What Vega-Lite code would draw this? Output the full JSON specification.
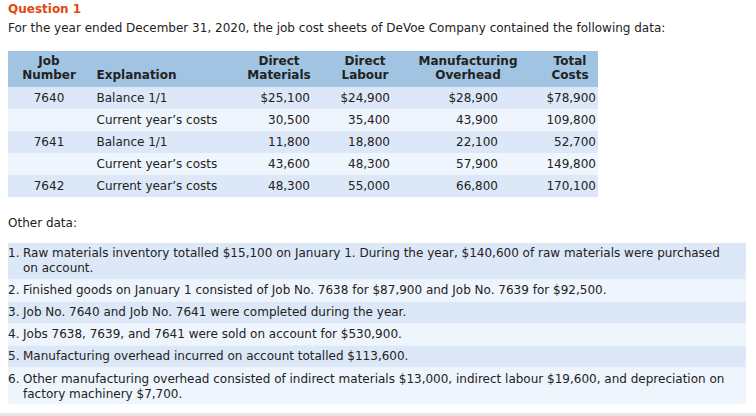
{
  "$schema": "https://vega.github.io/schema/vega-lite/v6.json",
  "width": 756,
  "height": 416,
  "padding": 0,
  "autosize": {"type": "none"},
  "background": "white",
  "config": {"view": {"stroke": null}},
  "datasets": {
    "bands": [
      {"band": "head", "from": 0, "to": 1, "x0": 1, "x1": 2},
      {"band": "r1", "from": 1, "to": 2, "x0": 1, "x1": 2},
      {"band": "r2", "from": 2, "to": 3, "x0": 1, "x1": 2},
      {"band": "r3", "from": 3, "to": 4, "x0": 1, "x1": 2},
      {"band": "r4", "from": 4, "to": 5, "x0": 1, "x1": 2},
      {"band": "r5", "from": 5, "to": 6, "x0": 1, "x1": 2},
      {"band": "i1", "from": 7, "to": 8, "x0": 1, "x1": 3},
      {"band": "i2", "from": 8, "to": 9, "x0": 1, "x1": 3},
      {"band": "i3", "from": 9, "to": 10, "x0": 1, "x1": 3},
      {"band": "i4", "from": 10, "to": 11, "x0": 1, "x1": 3},
      {"band": "i5", "from": 11, "to": 12, "x0": 1, "x1": 3},
      {"band": "i6", "from": 12, "to": 13, "x0": 1, "x1": 3},
      {"band": "foot", "from": 14, "to": 15, "x0": 0, "x1": 4}
    ],
    "texts": [
      {"line": 0, "col": 0, "kind": "title", "text": "Question 1"},
      {"line": 1, "col": 0, "kind": "left", "text": "For the year ended December 31, 2020, the job cost sheets of DeVoe Company contained the following data:"},
      {"line": 2, "col": 3, "kind": "headc", "text": "Job"},
      {"line": 2, "col": 5, "kind": "headc", "text": "Direct"},
      {"line": 2, "col": 7, "kind": "headc", "text": "Direct"},
      {"line": 2, "col": 9, "kind": "headc", "text": "Manufacturing"},
      {"line": 2, "col": 11, "kind": "headc", "text": "Total"},
      {"line": 3, "col": 3, "kind": "headc", "text": "Number"},
      {"line": 3, "col": 4, "kind": "headl", "text": "Explanation"},
      {"line": 3, "col": 5, "kind": "headc", "text": "Materials"},
      {"line": 3, "col": 7, "kind": "headc", "text": "Labour"},
      {"line": 3, "col": 9, "kind": "headc", "text": "Overhead"},
      {"line": 3, "col": 11, "kind": "headc", "text": "Costs"},
      {"line": 4, "col": 3, "kind": "mid", "text": "7640"},
      {"line": 4, "col": 4, "kind": "left", "text": "Balance 1/1"},
      {"line": 4, "col": 6, "kind": "num", "text": "$25,100"},
      {"line": 4, "col": 8, "kind": "num", "text": "$24,900"},
      {"line": 4, "col": 10, "kind": "num", "text": "$28,900"},
      {"line": 4, "col": 12, "kind": "num", "text": "$78,900"},
      {"line": 5, "col": 4, "kind": "left", "text": "Current year’s costs"},
      {"line": 5, "col": 6, "kind": "num", "text": "30,500"},
      {"line": 5, "col": 8, "kind": "num", "text": "35,400"},
      {"line": 5, "col": 10, "kind": "num", "text": "43,900"},
      {"line": 5, "col": 12, "kind": "num", "text": "109,800"},
      {"line": 6, "col": 3, "kind": "mid", "text": "7641"},
      {"line": 6, "col": 4, "kind": "left", "text": "Balance 1/1"},
      {"line": 6, "col": 6, "kind": "num", "text": "11,800"},
      {"line": 6, "col": 8, "kind": "num", "text": "18,800"},
      {"line": 6, "col": 10, "kind": "num", "text": "22,100"},
      {"line": 6, "col": 12, "kind": "num", "text": "52,700"},
      {"line": 7, "col": 4, "kind": "left", "text": "Current year’s costs"},
      {"line": 7, "col": 6, "kind": "num", "text": "43,600"},
      {"line": 7, "col": 8, "kind": "num", "text": "48,300"},
      {"line": 7, "col": 10, "kind": "num", "text": "57,900"},
      {"line": 7, "col": 12, "kind": "num", "text": "149,800"},
      {"line": 8, "col": 3, "kind": "mid", "text": "7642"},
      {"line": 8, "col": 4, "kind": "left", "text": "Current year’s costs"},
      {"line": 8, "col": 6, "kind": "num", "text": "48,300"},
      {"line": 8, "col": 8, "kind": "num", "text": "55,000"},
      {"line": 8, "col": 10, "kind": "num", "text": "66,800"},
      {"line": 8, "col": 12, "kind": "num", "text": "170,100"},
      {"line": 9, "col": 0, "kind": "left", "text": "Other data:"},
      {"line": 10, "col": 1, "kind": "left", "text": "1."},
      {"line": 10, "col": 2, "kind": "left", "text": "Raw materials inventory totalled $15,100 on January 1. During the year, $140,600 of raw materials were purchased"},
      {"line": 11, "col": 2, "kind": "left", "text": "on account."},
      {"line": 12, "col": 1, "kind": "left", "text": "2."},
      {"line": 12, "col": 2, "kind": "left", "text": "Finished goods on January 1 consisted of Job No. 7638 for $87,900 and Job No. 7639 for $92,500."},
      {"line": 13, "col": 1, "kind": "left", "text": "3."},
      {"line": 13, "col": 2, "kind": "left", "text": "Job No. 7640 and Job No. 7641 were completed during the year."},
      {"line": 14, "col": 1, "kind": "left", "text": "4."},
      {"line": 14, "col": 2, "kind": "left", "text": "Jobs 7638, 7639, and 7641 were sold on account for $530,900."},
      {"line": 15, "col": 1, "kind": "left", "text": "5."},
      {"line": 15, "col": 2, "kind": "left", "text": "Manufacturing overhead incurred on account totalled $113,600."},
      {"line": 16, "col": 1, "kind": "left", "text": "6."},
      {"line": 16, "col": 2, "kind": "left", "text": "Other manufacturing overhead consisted of indirect materials $13,000, indirect labour $19,600, and depreciation on"},
      {"line": 17, "col": 2, "kind": "left", "text": "factory machinery $7,700."}
    ]
  },
  "layer": [
    {
      "data": {"name": "bands"},
      "mark": {"type": "rect"},
      "encoding": {
        "x": {"field": "x0", "type": "quantitative", "axis": null,
              "scale": {"domain": [0, 1, 2, 3, 4], "range": [0, 8, 598, 746, 756], "nice": false, "zero": false}},
        "x2": {"field": "x1"},
        "y": {"field": "from", "type": "quantitative", "axis": null,
              "scale": {"domain": [0, 1, 2, 3, 4, 5, 6, 7, 8, 9, 10, 11, 12, 13, 14, 15],
                        "range": [51, 87, 109, 131, 153, 175, 197, 243, 279.5, 301.5, 323.5, 345.5, 367.5, 404, 413, 416],
                        "nice": false, "zero": false}},
        "y2": {"field": "to"},
        "color": {"field": "band", "type": "nominal", "legend": null,
                  "scale": {"domain": ["head", "r1", "r2", "r3", "r4", "r5", "i1", "i2", "i3", "i4", "i5", "i6", "foot"],
                            "range": ["#a0c4e2", "#dce8f7", "#eef5fd", "#dce8f7", "#eef5fd", "#dce8f7", "#dce8f7", "#eef5fd", "#dce8f7", "#eef5fd", "#dce8f7", "#eef5fd", "#e6e6e6"]}}
      }
    },
    {
      "data": {"name": "texts"},
      "encoding": {
        "x": {"field": "col", "type": "quantitative", "axis": null,
              "scale": {"domain": [0, 1, 2, 3, 4, 5, 6, 7, 8, 9, 10, 11, 12],
                        "range": [8, 8, 23, 49, 96.5, 279, 310, 365, 390, 468, 498, 570, 596],
                        "nice": false, "zero": false}},
        "y": {"field": "line", "type": "quantitative", "axis": null,
              "scale": {"domain": [0, 1, 2, 3, 4, 5, 6, 7, 8, 9, 10, 11, 12, 13, 14, 15, 16, 17],
                        "range": [13.3, 31.7, 65, 79.3, 101.7, 123.7, 145.7, 167.7, 189.7, 226.5, 256.7, 271.7, 294.2, 316, 338, 360, 382.7, 397.7],
                        "nice": false, "zero": false}},
        "text": {"field": "text"}
      },
      "layer": [
        {"transform": [{"filter": "datum.kind === 'title'"}],
         "mark": {"type": "text", "align": "left", "baseline": "alphabetic", "font": "DejaVu Sans", "fontSize": 12, "fontWeight": "bold", "color": "#e4470e"}},
        {"transform": [{"filter": "datum.kind === 'left'"}],
         "mark": {"type": "text", "align": "left", "baseline": "alphabetic", "font": "DejaVu Sans", "fontSize": 12, "color": "#222222"}},
        {"transform": [{"filter": "datum.kind === 'headl'"}],
         "mark": {"type": "text", "align": "left", "baseline": "alphabetic", "font": "DejaVu Sans", "fontSize": 12, "fontWeight": "bold", "color": "#222222"}},
        {"transform": [{"filter": "datum.kind === 'headc'"}],
         "mark": {"type": "text", "align": "center", "baseline": "alphabetic", "font": "DejaVu Sans", "fontSize": 12, "fontWeight": "bold", "color": "#222222"}},
        {"transform": [{"filter": "datum.kind === 'mid'"}],
         "mark": {"type": "text", "align": "center", "baseline": "alphabetic", "font": "DejaVu Sans", "fontSize": 12, "color": "#222222"}},
        {"transform": [{"filter": "datum.kind === 'num'"}],
         "mark": {"type": "text", "align": "right", "baseline": "alphabetic", "font": "DejaVu Sans", "fontSize": 12, "color": "#222222"}}
      ]
    }
  ],
  "resolve": {"scale": {"x": "independent", "y": "independent"}}
}
